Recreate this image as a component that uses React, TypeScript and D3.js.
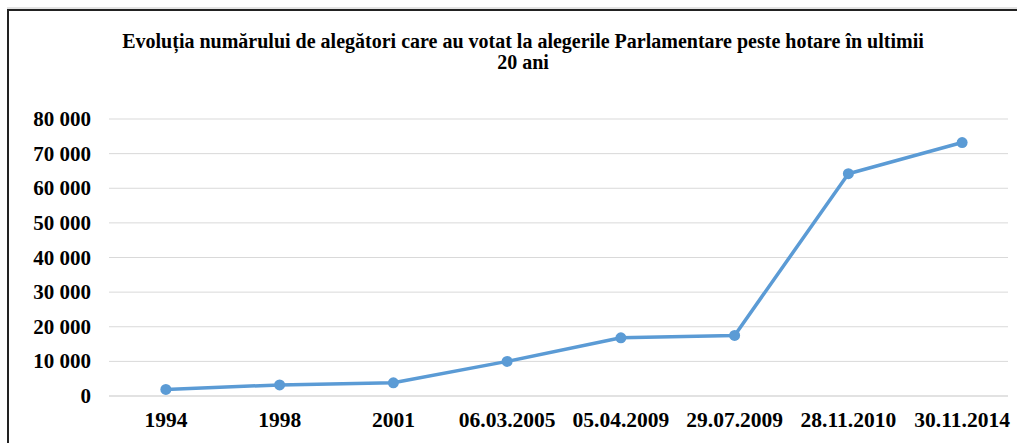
import React from "react";
import * as d3 from "d3";

const categories = ["1994", "1998", "2001", "06.03.2005", "05.04.2009", "29.07.2009", "28.11.2010", "30.11.2014"];
const voters = [1900, 3200, 3800, 10000, 16800, 17500, 64200, 73200];
const yTicks = [0, 10000, 20000, 30000, 40000, 50000, 60000, 70000, 80000];
const titleLines = [
  "Evoluția numărului de alegători care au votat la alegerile Parlamentare peste hotare în ultimii",
  "20 ani",
];

const W = 1017;
const H = 443;
const FONT = "'Liberation Serif', 'Times New Roman', serif";

export default function App() {
  const x = d3.scaleBand<string>().domain(categories).range([109, 1019]);
  const y = d3.scaleLinear().domain([0, 80000]).range([396, 119]);
  const fmt = (v: number) => d3.format(",")(v).replace(/,/g, " ");
  const line = d3
    .line<number>()
    .x((_, i) => (x(categories[i]) as number) + x.bandwidth() / 2)
    .y((d) => y(d));

  return (
    <svg width={W} height={H} style={{ position: "absolute", left: 0, top: 0, background: "#fff" }}>
      <rect x={0} y={0} width={W} height={H} fill="#fff" />
      {/* border */}
      <line x1={7} y1={8} x2={W} y2={8} stroke="#c8c8c8" strokeWidth={1} />
      <line x1={8} y1={10} x2={W} y2={10} stroke="#222" strokeWidth={2} />
      <line x1={8} y1={9} x2={8} y2={H} stroke="#222" strokeWidth={2} />
      {titleLines.map((t, i) => (
        <text
          key={i}
          x={523}
          y={48 + i * 21}
          textAnchor="middle"
          fontFamily={FONT}
          fontWeight="bold"
          fontSize={20}
          fill="#000"
        >
          {t}
        </text>
      ))}
      {yTicks.map((t) => (
        <g key={t}>
          <line x1={109} x2={1008} y1={y(t)} y2={y(t)} stroke="#d9d9d9" strokeWidth={t === 0 ? 1.5 : 1} />
          <text
            x={91}
            y={y(t) + 7}
            textAnchor="end"
            fontFamily={FONT}
            fontWeight="bold"
            fontSize={21}
            fill="#000"
          >
            {fmt(t)}
          </text>
        </g>
      ))}
      {categories.map((c) => (
        <text
          key={c}
          x={(x(c) as number) + x.bandwidth() / 2}
          y={427}
          textAnchor="middle"
          fontFamily={FONT}
          fontWeight="bold"
          fontSize={21.5}
          fill="#000"
        >
          {c}
        </text>
      ))}
      <path d={line(voters) as string} fill="none" stroke="#5B9BD5" strokeWidth={3.5} strokeLinejoin="round" />
      {voters.map((v, i) => (
        <circle key={i} cx={(x(categories[i]) as number) + x.bandwidth() / 2} cy={y(v)} r={5.5} fill="#5B9BD5" />
      ))}
    </svg>
  );
}
